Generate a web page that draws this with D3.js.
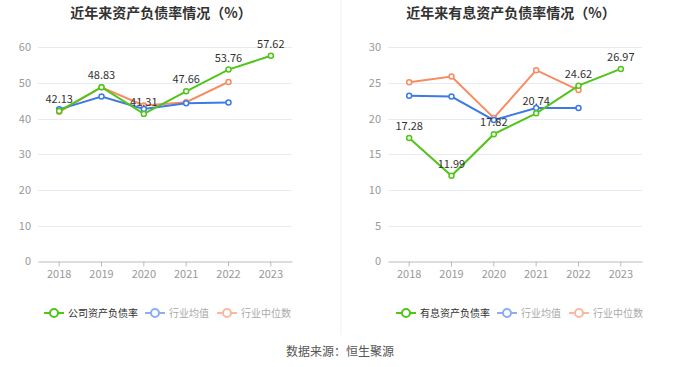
<!DOCTYPE html>
<html><head><meta charset="utf-8">
<script src="https://cdn.jsdelivr.net/npm/d3@7/dist/d3.min.js"></script>
<style>body{margin:0;background:#fff;font-family:"Noto Sans CJK SC","Noto Sans",sans-serif;}</style>
</head><body><svg id="c" width="680" height="367"></svg>
<script>
const years = ["2018","2019","2020","2021","2022","2023"];
const companyDebt = [42.13, 48.83, 41.31, 47.66, 53.76, 57.62];
const industryAvgDebt = [42.6, 46.2, 42.7, 44.3, 44.5];
const industryMedDebt = [41.9, 48.8, 43.7, 44.6, 50.3];
const interestDebt = [17.28, 11.99, 17.82, 20.74, 24.62, 26.97];
const industryAvgInt = [23.2, 23.1, 19.8, 21.5, 21.5];
const industryMedInt = [25.1, 25.9, 20.1, 26.8, 24.0];
const leftTicks = [0,10,20,30,40,50,60];
const rightTicks = [0,5,10,15,20,25,30];
const leftTitle = "近年来资产负债率情况（%）";
const rightTitle = "近年来有息资产负债率情况（%）";
const leftLegend = ["公司资产负债率","行业均值","行业中位数"];
const rightLegend = ["有息资产负债率","行业均值","行业中位数"];
const source = "数据来源：恒生聚源";

const GREEN="#52c41a", BLUE="#3d7ae8", ORANGE="#f88b5f";
const svg = d3.select("#c");
const font = '"Noto Sans CJK SC","Noto Sans",sans-serif';

svg.append("line").attr("x1",341).attr("x2",341).attr("y1",0).attr("y2",335)
  .attr("stroke","#f0f0f0").attr("stroke-width",1);

function panel(opt){
  const x = d3.scaleBand().domain(years).range([opt.x0, opt.x1]);
  const y = d3.scaleLinear().domain([0, d3.max(opt.ticks)]).range([261.3, 47.3]);
  const g = svg.append("g");
  g.append("text").attr("x",opt.tx).attr("y",18).attr("text-anchor","middle")
    .attr("font-size",14).attr("font-weight","bold").attr("fill","#333").attr("font-family",font).text(opt.title);
  g.selectAll(".grid").data(opt.ticks.filter(t=>t>0)).join("line")
    .attr("x1",opt.x0).attr("x2",opt.x1).attr("y1",d=>Math.round(y(d))+0.5).attr("y2",d=>Math.round(y(d))+0.5)
    .attr("stroke","#e6ebf5").attr("stroke-width",1);
  g.selectAll(".yl").data(opt.ticks).join("text")
    .attr("x",opt.x0-7).attr("y",d=>y(d)+4).attr("text-anchor","end")
    .attr("font-size",11).attr("fill","#999").attr("font-family",font).text(d=>d);
  const ax = g.append("g").attr("transform",`translate(0,${Math.round(y(0))+0.5})`)
    .call(d3.axisBottom(x).tickSize(5).tickSizeOuter(0).tickPadding(4));
  ax.select(".domain").attr("stroke","#bbb");
  ax.selectAll(".tick line").attr("stroke","#bbb");
  ax.selectAll(".tick text").attr("font-size",11).attr("fill","#999").attr("font-family",font);
  const cx = d => x(d)+x.bandwidth()/2;
  const series = [
    {vals:opt.med, color:ORANGE},
    {vals:opt.avg, color:BLUE},
    {vals:opt.main, color:GREEN}
  ];
  series.forEach(s=>{
    const pts = s.vals.map((v,i)=>[cx(years[i]), y(v)]);
    g.append("path").attr("d",d3.line()(pts)).attr("fill","none").attr("stroke",s.color).attr("stroke-width",2);
    g.selectAll(null).data(pts).join("circle").attr("cx",d=>d[0]).attr("cy",d=>d[1]).attr("r",2.5)
      .attr("fill","#fff").attr("stroke",s.color).attr("stroke-width",1.5);
  });
  g.selectAll(".lbl").data(opt.main).join("text")
    .attr("x",(d,i)=>cx(years[i])).attr("y",d=>y(d)-8).attr("text-anchor","middle")
    .attr("font-size",11).attr("fill","#333").attr("font-family",font).text(d=>d.toFixed(2));
  const colors=[GREEN,BLUE,ORANGE];
  opt.legend.forEach((name,i)=>{
    const lx = opt.lx[i], ly=313;
    const op = i===0?1:0.6;
    const lg = g.append("g").attr("opacity",op);
    lg.append("line").attr("x1",lx).attr("x2",lx+20).attr("y1",ly).attr("y2",ly).attr("stroke",colors[i]).attr("stroke-width",2);
    lg.append("circle").attr("cx",lx+10).attr("cy",ly).attr("r",4).attr("fill","#fff").attr("stroke",colors[i]).attr("stroke-width",2);
    g.append("text").attr("x",lx+24).attr("y",ly+3.5).attr("font-size",10).attr("font-family",font)
      .attr("fill", i===0?"#333":"#aaa").text(name);
  });
}
panel({x0:38,x1:292,tx:161,title:leftTitle,ticks:leftTicks,main:companyDebt,avg:industryAvgDebt,med:industryMedDebt,legend:leftLegend,lx:[44,145,217]});
panel({x0:388,x1:642,tx:511,title:rightTitle,ticks:rightTicks,main:interestDebt,avg:industryAvgInt,med:industryMedInt,legend:rightLegend,lx:[396,497,569]});
svg.append("text").attr("x",340).attr("y",356).attr("text-anchor","middle").attr("font-size",12)
  .attr("fill","#555").attr("font-family",font).text(source);
</script></body></html>
